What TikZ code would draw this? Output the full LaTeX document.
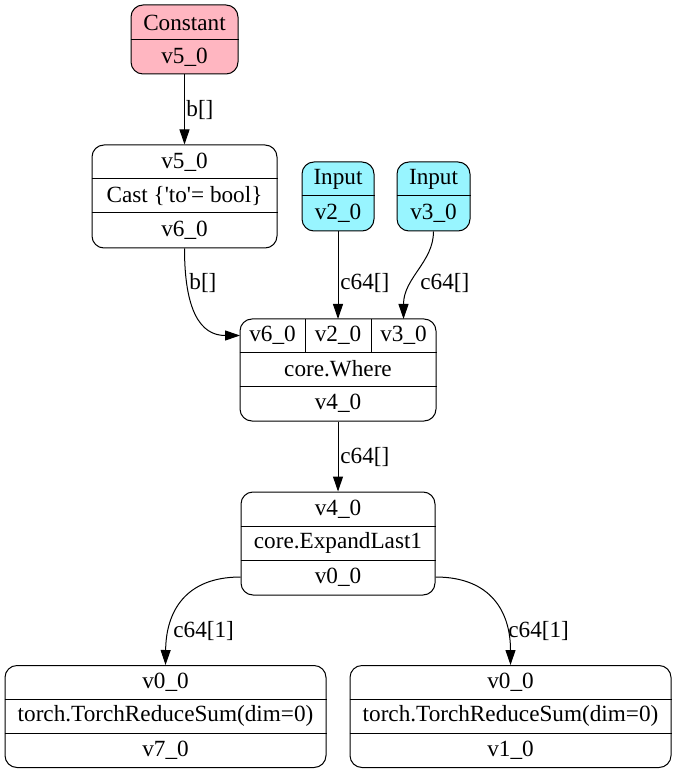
\documentclass[tikz,border=0pt]{standalone}
\usepackage{fontspec}
\setmainfont{Liberation Serif}
\usetikzlibrary{arrows.meta}
\definecolor{pinkfill}{HTML}{FFB6C1}
\definecolor{cyanfill}{HTML}{98F5FF}
\tikzset{
  rec/.style={draw, rounded corners=6pt, inner sep=0pt, line width=0.5pt},
  txt/.style={inner sep=0pt, font=\fontsize{11.6}{14}\selectfont},
  elbl/.style={inner sep=0pt, anchor=west, font=\fontsize{11.6}{14}\selectfont},
  sep/.style={line width=0.5pt},
  edge/.style={line width=0.5pt, -{Triangle[length=7.5pt,width=5pt]}}
}
\begin{document}
\begin{tikzpicture}[x=0.5pt,y=-0.5pt]
\useasboundingbox (0,0) rectangle (677,774);
% Constant
\node[rec, fill=pinkfill, minimum width=53.5pt, minimum height=34.5pt] (const) at (184.5,39.5) {};
\draw[sep] (const.west |- 0,40) -- (const.east |- 0,40);
\node[txt] (constA) at (184.5,22.5) {Constant};
\node[txt] (constB) at (184.5,57) {v5\_0};
% Cast
\node[rec, minimum width=92.5pt, minimum height=51.5pt] (cast) at (184.5,196.5) {};
\draw[sep] (cast.west |- 0,179) -- (cast.east |- 0,179);
\draw[sep] (cast.west |- 0,213) -- (cast.east |- 0,213);
\node[txt] (castA) at (184.5,162) {v5\_0};
\node[txt] (castB) at (184.5,196) {Cast \{\textquotesingle to\textquotesingle= bool\}};
\node[txt] (castC) at (184.5,230.5) {v6\_0};
% Inputs
\node[rec, fill=cyanfill, minimum width=36pt, minimum height=34.5pt] (in2) at (338,196.5) {};
\draw[sep] (in2.west |- 0,196) -- (in2.east |- 0,196);
\node[txt] (in2A) at (338,179) {Input};
\node[txt] (in2B) at (338,213.5) {v2\_0};
\node[rec, fill=cyanfill, minimum width=36.5pt, minimum height=34.5pt] (in3) at (433.5,196.5) {};
\draw[sep] (in3.west |- 0,196) -- (in3.east |- 0,196);
\node[txt] (in3A) at (433.5,179) {Input};
\node[txt] (in3B) at (433.5,213.5) {v3\_0};
% Where
\node[rec, minimum width=98pt, minimum height=51pt] (where) at (338,370) {};
\draw[sep] (where.west |- 0,352) -- (where.east |- 0,352);
\draw[sep] (where.west |- 0,386) -- (where.east |- 0,386);
\draw[sep] (305,319) -- (305,352);
\draw[sep] (371,319) -- (371,352);
\node[txt] (wA) at (272.5,335.5) {v6\_0};
\node[txt] (wB) at (338,335.5) {v2\_0};
\node[txt] (wC) at (403.5,335.5) {v3\_0};
\node[txt] (wD) at (338,369) {core.Where};
\node[txt] (wE) at (338,403.5) {v4\_0};
\coordinate (pv6) at (240,335.5);
\coordinate (pv2) at (338,319);
\coordinate (pv3) at (403.5,319);
% ExpandLast1
\node[rec, minimum width=97pt, minimum height=51.5pt] (exp) at (338,543.5) {};
\draw[sep] (exp.west |- 0,526) -- (exp.east |- 0,526);
\draw[sep] (exp.west |- 0,560) -- (exp.east |- 0,560);
\node[txt] (eA) at (338,509) {v4\_0};
\node[txt] (eB) at (338,543) {core.ExpandLast1};
\node[txt] (eC) at (338,577.5) {v0\_0};
\coordinate (eL) at (240.5,577);
\coordinate (eR) at (435.5,577);
% Sums
\node[rec, minimum width=160.5pt, minimum height=51pt] (sumL) at (165.5,716.5) {};
\draw[sep] (sumL.west |- 0,699) -- (sumL.east |- 0,699);
\draw[sep] (sumL.west |- 0,733) -- (sumL.east |- 0,733);
\node[txt] (sLA) at (165.5,682.5) {v0\_0};
\node[txt] (sLB) at (165.5,716) {torch.TorchReduceSum(dim=0)};
\node[txt] (sLC) at (165.5,750) {v7\_0};
\node[rec, minimum width=160.5pt, minimum height=51pt] (sumR) at (510.5,716.5) {};
\draw[sep] (sumR.west |- 0,699) -- (sumR.east |- 0,699);
\draw[sep] (sumR.west |- 0,733) -- (sumR.east |- 0,733);
\node[txt] (sRA) at (510.5,682.5) {v0\_0};
\node[txt] (sRB) at (510.5,716) {torch.TorchReduceSum(dim=0)};
\node[txt] (sRC) at (510.5,750) {v1\_0};
% Edges
\draw[edge] (const.south) -- (cast.north);
\node[elbl] (l1) at (186,110) {b[]};
\draw[edge] (cast.south) .. controls (184.5,310) and (200,335.5) .. (pv6);
\node[elbl] (l2) at (189,283) {b[]};
\draw[edge] (in2.south) -- (pv2);
\node[elbl] (l3) at (340,283) {c64[]};
\draw[edge] (in3.south) .. controls (433.5,262) and (403.5,278) .. (pv3);
\node[elbl] (l4) at (420,283) {c64[]};
\draw[edge] (where.south) -- (exp.north);
\node[elbl] (l5) at (340,457) {c64[]};
\draw[edge] (eL) .. controls (185,577) and (166,612) .. (sumL.north);
\node[elbl] (l6) at (173,631) {c64[1]};
\draw[edge] (eR) .. controls (491,577) and (510.5,612) .. (sumR.north);
\node[elbl] (l7) at (508,631) {c64[1]};
\end{tikzpicture}
\end{document}
